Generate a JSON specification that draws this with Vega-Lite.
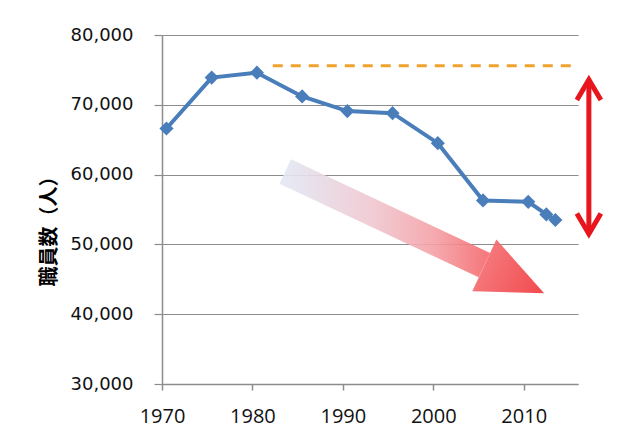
{
  "$schema": "https://vega.github.io/schema/vega-lite/v6.json",
  "width": 416,
  "height": 349,
  "autosize": {"type": "none"},
  "padding": {"left": 162, "top": 35, "right": 54, "bottom": 64},
  "background": "white",
  "config": {"view": {"stroke": null}},
  "datasets": {
    "staff": [
      {"date": "1970-07-01", "staff": 66600},
      {"date": "1975-07-01", "staff": 73900},
      {"date": "1980-07-01", "staff": 74600},
      {"date": "1985-07-01", "staff": 71200},
      {"date": "1990-07-01", "staff": 69100},
      {"date": "1995-07-01", "staff": 68800},
      {"date": "2000-07-01", "staff": 64500},
      {"date": "2005-07-01", "staff": 56300},
      {"date": "2010-07-01", "staff": 56100},
      {"date": "2012-07-01", "staff": 54300},
      {"date": "2013-07-01", "staff": 53500}
    ],
    "peak": [
      {"date": "1982-04-01", "staff": 75600},
      {"date": "2016-01-01", "staff": 75600}
    ],
    "gap": [
      {"date": "2017-03-15", "staff": 73600, "staff2": 51500}
    ],
    "gapEnds": [
      {"date": "2017-03-15", "staff": 73600, "end": "top"},
      {"date": "2017-03-15", "staff": 51500, "end": "bottom"}
    ],
    "trendShaft": [
      {"date": "1983-08-18", "staff": 60450},
      {"date": "2005-08-25", "staff": 47030}
    ],
    "trendHead": [
      {"date": "2008-12-13", "staff": 45000}
    ]
  },
  "encoding": {
    "x": {
      "field": "date",
      "type": "temporal",
      "scale": {"type": "utc", "domain": [{"year": 1970, "utc": true}, {"year": 2016, "utc": true}], "nice": false},
      "axis": {
        "title": null,
        "values": [{"year": 1970, "utc": true}, {"year": 1980, "utc": true}, {"year": 1990, "utc": true}, {"year": 2000, "utc": true}, {"year": 2010, "utc": true}],
        "format": "%Y",
        "formatType": "utc",
        "grid": false,
        "domainColor": "#8c8c8c",
        "domainWidth": 1.5,
        "tickColor": "#8c8c8c",
        "tickWidth": 1.5,
        "tickSize": 6,
        "labelFont": "Open Sans",
        "labelFontSize": 20,
        "labelColor": "#111111",
        "labelPadding": 16,
        "labelFlush": false,
        "labelOverlap": false
      }
    },
    "y": {
      "field": "staff",
      "type": "quantitative",
      "scale": {"domain": [30000, 80000], "nice": false, "zero": false},
      "axis": {
        "title": "職員数（人）",
        "values": [30000, 40000, 50000, 60000, 70000, 80000],
        "format": ",d",
        "grid": true,
        "gridColor": "#8c8c8c",
        "gridWidth": 1.2,
        "domainColor": "#8c8c8c",
        "domainWidth": 1.5,
        "tickColor": "#8c8c8c",
        "tickWidth": 1.2,
        "tickSize": 8,
        "labelFont": "DejaVu Sans",
        "labelFontSize": 18,
        "labelColor": "#111111",
        "labelPadding": 21,
        "titleFont": "Noto Sans CJK JP",
        "titleFontSize": 20,
        "titleFontWeight": "bold",
        "titleColor": "#000000",
        "titleX": -113,
        "titleY": 191,
        "titleAngle": -90,
        "titleAlign": "center",
        "titleBaseline": "middle"
      }
    }
  },
  "layer": [
    {
      "data": {"name": "trendShaft"},
      "mark": {
        "type": "line",
        "strokeWidth": 27,
        "strokeCap": "butt",
        "strokeOpacity": 0.9,
        "stroke": {
          "gradient": "linear",
          "x1": 0, "y1": 0, "x2": 1, "y2": 0,
          "stops": [
            {"offset": 0, "color": "#e2e7f4"},
            {"offset": 0.45, "color": "#f0c6ce"},
            {"offset": 0.75, "color": "#f4a0a6"},
            {"offset": 1, "color": "#f46c70"}
          ]
        }
      }
    },
    {
      "data": {"name": "trendHead"},
      "mark": {
        "type": "point",
        "shape": "M-1,-0.864L1,0L-1,0.864Z",
        "size": 4356,
        "angle": 25,
        "filled": true,
        "strokeWidth": 0,
        "opacity": 0.92,
        "fill": {
          "gradient": "linear",
          "x1": 0, "y1": 0, "x2": 1, "y2": 0,
          "stops": [
            {"offset": 0, "color": "#f46a6e"},
            {"offset": 1, "color": "#f03a3e"}
          ]
        }
      }
    },
    {
      "data": {"name": "peak"},
      "mark": {"type": "line", "color": "#f0a22e", "strokeWidth": 3, "strokeDash": [10, 8]}
    },
    {
      "data": {"name": "gap"},
      "mark": {"type": "rule", "color": "#e8151d", "strokeWidth": 5},
      "encoding": {"y2": {"field": "staff2"}}
    },
    {
      "data": {"name": "gapEnds"},
      "mark": {"type": "point", "filled": false, "color": "#e8151d", "strokeWidth": 5, "size": 576, "opacity": 1, "strokeJoin": "miter", "strokeCap": "butt"},
      "encoding": {
        "shape": {
          "field": "end",
          "type": "nominal",
          "scale": {"domain": ["top", "bottom"], "range": ["M-1,1.7L0,0L1,1.7", "M-1,-1.7L0,0L1,-1.7"]},
          "legend": null
        }
      }
    },
    {
      "data": {"name": "staff"},
      "mark": {
        "type": "line",
        "color": "#4a7ebb",
        "strokeWidth": 4,
        "point": {"shape": "diamond", "size": 200, "filled": true, "color": "#4a7ebb", "opacity": 1}
      }
    }
  ]
}
